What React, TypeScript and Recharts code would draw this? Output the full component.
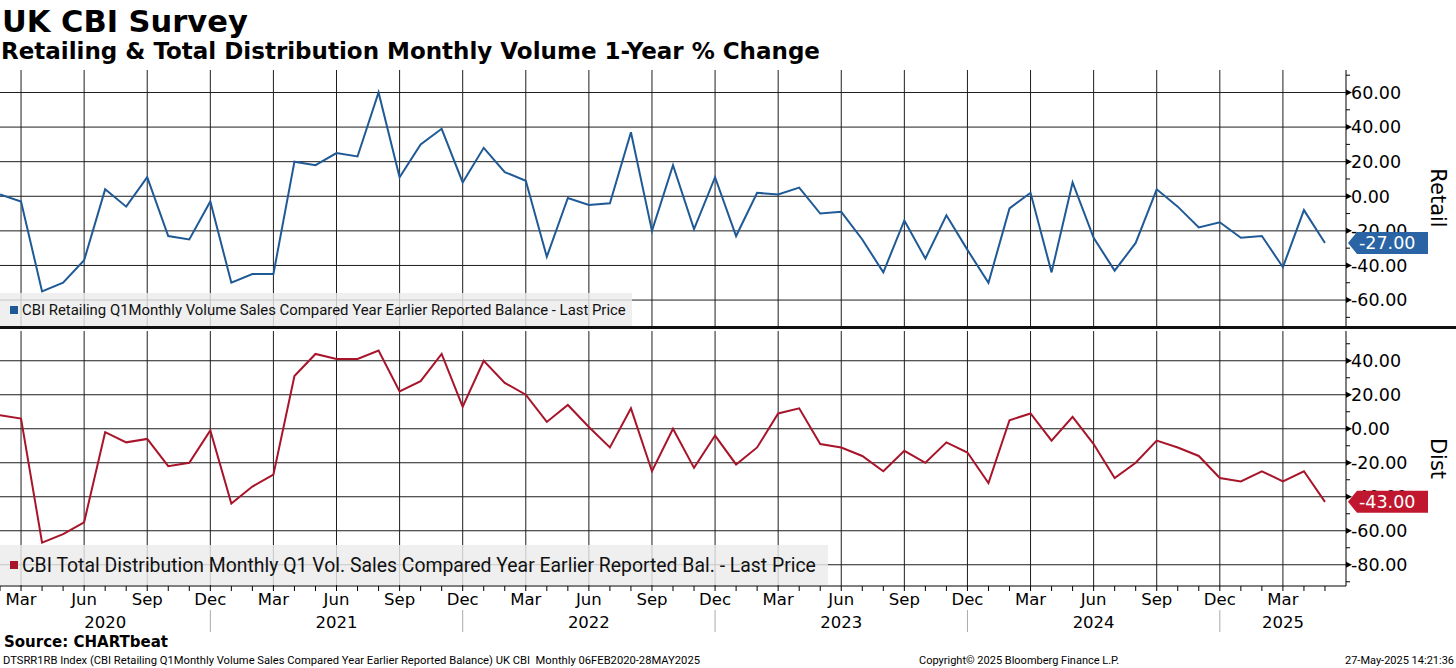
import React from 'react'
import { LineChart, Line, XAxis, YAxis, CartesianGrid, Legend } from 'recharts'

// monthly observations, Feb 2020 .. May 2025
const months = [
  '2020-02', '2020-03', '2020-04', '2020-05', '2020-06', '2020-07', '2020-08', '2020-09', '2020-10', '2020-11', '2020-12',
  '2021-01', '2021-02', '2021-03', '2021-04', '2021-05', '2021-06', '2021-07', '2021-08', '2021-09', '2021-10', '2021-11', '2021-12',
  '2022-01', '2022-02', '2022-03', '2022-04', '2022-05', '2022-06', '2022-07', '2022-08', '2022-09', '2022-10', '2022-11', '2022-12',
  '2023-01', '2023-02', '2023-03', '2023-04', '2023-05', '2023-06', '2023-07', '2023-08', '2023-09', '2023-10', '2023-11', '2023-12',
  '2024-01', '2024-02', '2024-03', '2024-04', '2024-05', '2024-06', '2024-07', '2024-08', '2024-09', '2024-10', '2024-11', '2024-12',
  '2025-01', '2025-02', '2025-03', '2025-04', '2025-05',
]

const retail = [
  1, -3, -55, -50, -37, 4, -6, 11, -23, -25, -3,
  -50, -45, -45, 20, 18, 25, 23, 60, 11, 30, 39, 8,
  28, 14, 9, -35, -1, -5, -4, 37, -20, 18, -19, 11,
  -23, 2, 1, 5, -10, -9, -25, -44, -14, -36, -11, -31,
  -50, -7, 2, -44, 8, -24, -43, -27, 4, -6, -18, -15,
  -24, -23, -41, -8, -27,
]

const dist = [
  8, 6, -67, -62, -55, -2, -8, -6, -22, -20, -1,
  -44, -34, -27, 31, 44, 41, 41, 46, 22, 28, 44, 13,
  40, 27, 20, 4, 14, 1, -11, 12, -25, 0, -23, -4,
  -21, -11, 9, 12, -9, -11, -16, -25, -13, -20, -8, -14,
  -32, 5, 9, -7, 7, -9, -29, -20, -7, -11, -16, -29,
  -31, -25, -31, -25, -43,
]

const monthNames = ['Jan', 'Feb', 'Mar', 'Apr', 'May', 'Jun', 'Jul', 'Aug', 'Sep', 'Oct', 'Nov', 'Dec']
const yearTicks = [5, 16, 28, 40, 52, 61]
const yearLabels = ['2020', '2021', '2022', '2023', '2024', '2025']

const retailTicks = [-70, -60, -50, -40, -30, -20, -10, 0, 10, 20, 30, 40, 50, 60, 70]
const retailGrid = [-60, -40, -20, 0, 20, 40, 60]
const distTicks = [-90, -80, -70, -60, -50, -40, -30, -20, -10, 0, 10, 20, 30, 40, 50]
const distGrid = [-80, -60, -40, -20, 0, 20, 40]

const retailName = 'CBI Retailing Q1Monthly Volume Sales Compared Year Earlier Reported Balance - Last Price'
const distName = 'CBI Total Distribution Monthly Q1 Vol. Sales Compared Year Earlier Reported Bal. - Last Price'

const BLUE = '#1f5a96'
const RED = '#a8142a'
const FONT = "'DejaVu Sans', Verdana, sans-serif"
const LEGEND_FONT = "Roboto, 'Liberation Sans', sans-serif"

const data = months.map((m, i) => ({ i, m, retail: retail[i], dist: dist[i] }))
const monthIdx = months.map((_, i) => i)
const quarterIdx = monthIdx.filter((i) => Number(months[i].slice(5)) % 3 === 0)
const retailLast = retail[retail.length - 1]
const distLast = dist[dist.length - 1]

function ValueTick(props: any) {
  const { x, y, payload, last, badge } = props
  const v = payload.value
  if (v === last) {
    return (
      <g>
        <path
          d={`M${x + 2},${y} L${x + 11},${y - 11} L${x + 82},${y - 11} L${x + 82},${y + 11} L${x + 11},${y + 11} Z`}
          fill={badge}
        />
        <text x={x + 13} y={y} dy="0.36em" fill="#fff" fontSize={17.5} fontFamily={FONT}>
          {v.toFixed(2)}
        </text>
      </g>
    )
  }
  if (v % 20 !== 0) {
    return <line x1={x} x2={x + 4} y1={y} y2={y} stroke="#000" />
  }
  return (
    <g>
      <path d={`M${x},${y - 3} L${x + 6},${y} L${x},${y + 3} Z`} fill="#000" />
      <text x={x + 5} y={y} dy="0.36em" fill="#000" fontSize={17.5} fontFamily={FONT}>
        {v.toFixed(2)}
      </text>
    </g>
  )
}

function MonthTick(props: any) {
  const { x, y, payload } = props
  const idx = payload.value
  const mm = Number(months[idx].slice(5))
  const yi = yearTicks.indexOf(idx)
  return (
    <g>
      <line x1={x} x2={x} y1={y} y2={y + 5} stroke="#000" />
      {mm % 3 === 0 && (
        <text x={x} y={y + 19} textAnchor="middle" fill="#000" fontSize={16.5} fontFamily={FONT}>
          {monthNames[mm - 1]}
        </text>
      )}
      {mm === 12 && <line x1={x} x2={x} y1={y + 24} y2={y + 46} stroke="#aaa" />}
      {yi >= 0 && (
        <text x={x} y={y + 42} textAnchor="middle" fill="#000" fontSize={16.5} fontFamily={FONT}>
          {yearLabels[yi]}
        </text>
      )}
    </g>
  )
}

function SideTitle(props: any) {
  const { viewBox, text } = props
  const cx = viewBox.x + 92
  const cy = viewBox.y + viewBox.height / 2
  return (
    <text
      x={cx}
      y={cy}
      textAnchor="middle"
      dominantBaseline="central"
      transform={`rotate(90 ${cx} ${cy})`}
      fontSize={21}
      fontFamily={FONT}
      fill="#000"
    >
      {text}
    </text>
  )
}

function LegendBox({ color, text, fontSize }: { color: string; text: string; fontSize: number }) {
  return (
    <div
      style={{
        width: '100%',
        height: '100%',
        background: 'rgba(236,236,236,0.82)',
        display: 'flex',
        alignItems: 'center',
        fontFamily: LEGEND_FONT,
        fontSize,
        color: '#111',
        whiteSpace: 'nowrap',
      }}
    >
      <span style={{ display: 'inline-block', width: 8, height: 8, background: color, margin: '0 4px 0 10px' }} />
      {text}
    </div>
  )
}

export default function App() {
  return (
    <div style={{ position: 'absolute', left: 0, top: 0, width: 1456, height: 668, background: '#fff', overflow: 'hidden' }}>
      <div style={{ position: 'absolute', left: 2, top: 7, fontFamily: FONT, fontWeight: 700, fontSize: 30.5, lineHeight: '30px' }}>
        UK CBI Survey
      </div>
      <div style={{ position: 'absolute', left: 1, top: 40, fontFamily: FONT, fontWeight: 700, fontSize: 23, lineHeight: '22px' }}>
        Retailing &amp; Total Distribution Monthly Volume 1-Year % Change
      </div>

      <div style={{ position: 'absolute', left: 0, top: 70 }}>
        <LineChart width={1456} height={256} data={data} margin={{ top: 0, right: 0, bottom: 0, left: 0 }}>
          <CartesianGrid stroke="#1e1e1e" verticalValues={quarterIdx} horizontalValues={retailGrid} />
          <XAxis dataKey="i" type="number" domain={[0, 64]} hide allowDataOverflow />
          <YAxis
            orientation="right"
            width={110}
            domain={[-75, 73]}
            allowDataOverflow
            ticks={[...retailTicks, retailLast]}
            interval={0}
            tickSize={0}
            tickMargin={0}
            axisLine={{ stroke: '#000' }}
            tickLine={false}
            tick={<ValueTick last={retailLast} badge="#2a64a4" />}
            label={<SideTitle text="Retail" />}
          />
          <Legend
            layout="horizontal"
            verticalAlign="middle"
            align="center"
            wrapperStyle={{ left: 0, top: 223, width: 632, height: 33 }}
            content={() => <LegendBox color={BLUE} text={retailName} fontSize={14.9} />}
          />
          <Line dataKey="retail" name={retailName} stroke={BLUE} strokeWidth={2} dot={false} type="linear" isAnimationActive={false} />
        </LineChart>
      </div>

      <div style={{ position: 'absolute', left: 0, top: 326, width: 1456, height: 3, background: '#111' }} />

      <div style={{ position: 'absolute', left: 0, top: 331 }}>
        <LineChart width={1456} height={305} data={data} margin={{ top: 0, right: 0, bottom: 0, left: 0 }}>
          <CartesianGrid stroke="#1e1e1e" verticalValues={quarterIdx} horizontalValues={distGrid} />
          <XAxis
            dataKey="i"
            type="number"
            domain={[0, 64]}
            allowDataOverflow
            ticks={monthIdx}
            interval={0}
            height={50}
            tickSize={0}
            tickMargin={0}
            axisLine={{ stroke: '#000' }}
            tickLine={false}
            tick={<MonthTick />}
          />
          <YAxis
            orientation="right"
            width={110}
            domain={[-92.5, 57.5]}
            allowDataOverflow
            ticks={[...distTicks, distLast]}
            interval={0}
            tickSize={0}
            tickMargin={0}
            axisLine={{ stroke: '#000' }}
            tickLine={false}
            tick={<ValueTick last={distLast} badge="#c0172f" />}
            label={<SideTitle text="Dist" />}
          />
          <Legend
            layout="horizontal"
            verticalAlign="middle"
            align="center"
            wrapperStyle={{ left: 0, top: 214, width: 828, height: 40 }}
            content={() => <LegendBox color={RED} text={distName} fontSize={19.4} />}
          />
          <Line dataKey="dist" name={distName} stroke={RED} strokeWidth={2} dot={false} type="linear" isAnimationActive={false} />
        </LineChart>
      </div>

      <div style={{ position: 'absolute', left: 4, top: 635, fontFamily: FONT, fontWeight: 700, fontSize: 15, lineHeight: '15px' }}>
        Source: CHARTbeat
      </div>
      <div style={{ position: 'absolute', left: 3, top: 655, fontFamily: LEGEND_FONT, fontSize: 11.2, lineHeight: '11px', whiteSpace: 'nowrap' }}>
        DTSRR1RB Index (CBI Retailing Q1Monthly Volume Sales Compared Year Earlier Reported Balance) UK CBI&nbsp; Monthly 06FEB2020-28MAY2025
      </div>
      <div style={{ position: 'absolute', left: 919, top: 655, fontFamily: LEGEND_FONT, fontSize: 11, lineHeight: '11px', whiteSpace: 'nowrap' }}>
        Copyright© 2025 Bloomberg Finance L.P.
      </div>
      <div style={{ position: 'absolute', left: 1345, top: 655, fontFamily: LEGEND_FONT, fontSize: 11, lineHeight: '11px', whiteSpace: 'nowrap' }}>
        27-May-2025 14:21:36
      </div>
    </div>
  )
}
